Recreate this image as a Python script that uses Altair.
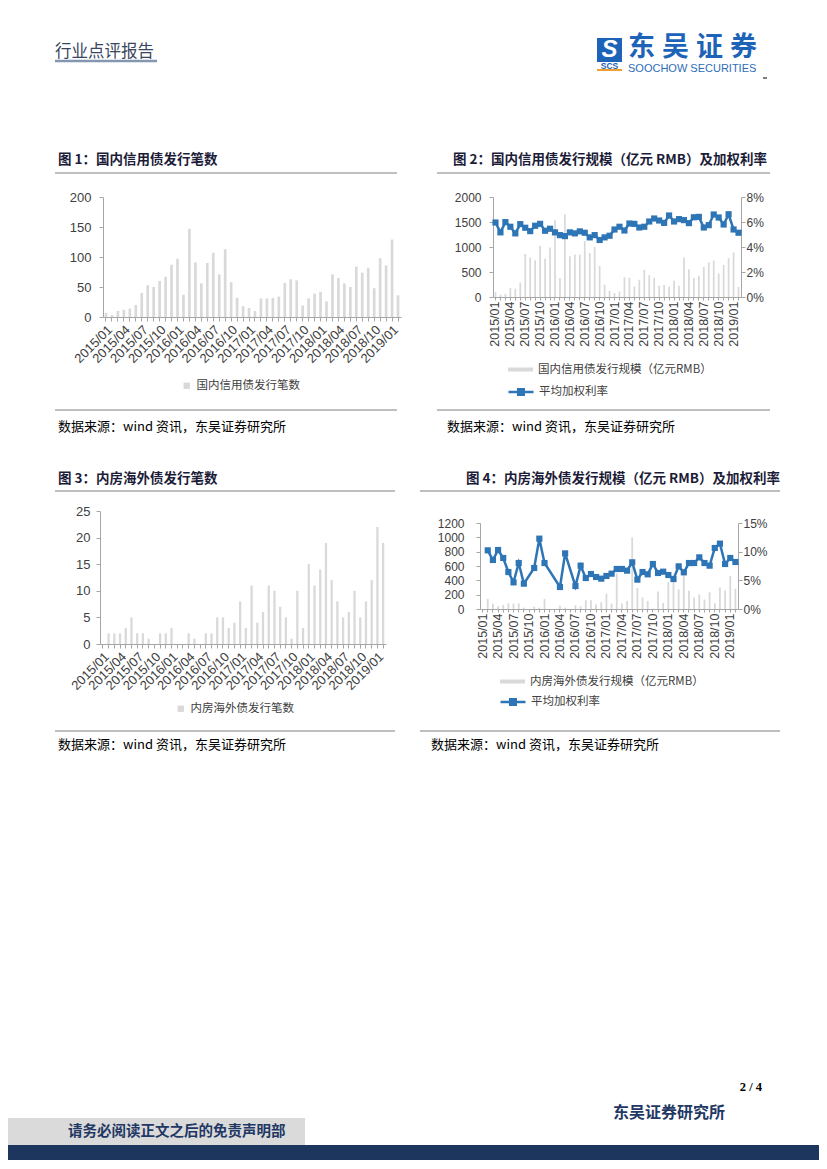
import altair as alt
import pandas as pd

# ---------------- data ----------------
months = [f"{y}/{m:02d}" for y in range(2015, 2020) for m in range(1, 13)][:50]

# 图1 国内信用债发行笔数
credit_count = [7, 3, 10, 12, 14, 20, 40, 53, 50, 60,
                67, 87, 97, 37, 147, 91, 56, 90, 107, 71,
                113, 58, 32, 18, 15, 10, 31, 31, 32, 34,
                57, 63, 61, 19, 31, 39, 42, 26, 71, 65,
                56, 50, 84, 74, 82, 48, 98, 86, 129, 36]

# 图2 国内信用债发行规模（亿元RMB）
credit_scale = [100, 45, 60, 180, 165, 290, 860, 790, 735, 1025,
                765, 990, 1535, 380, 1655, 815, 850, 850, 1120, 880,
                1005, 620, 245, 125, 80, 110, 395, 385, 210, 345,
                545, 435, 385, 225, 240, 205, 325, 225, 790, 555,
                380, 425, 600, 690, 730, 470, 640, 775, 890, 200]
# 图2 平均加权利率（%）
credit_rate = [5.96, 5.17, 5.99, 5.62, 5.09, 5.83, 5.54, 5.27, 5.70, 5.85,
               5.30, 5.46, 5.17, 4.95, 4.87, 5.17, 5.09, 5.25, 5.14, 4.77,
               4.95, 4.56, 4.77, 4.90, 5.40, 5.62, 5.32, 5.88, 5.85, 5.56,
               5.62, 6.04, 6.28, 6.12, 5.93, 6.52, 6.04, 6.23, 6.15, 5.91,
               6.38, 6.41, 5.56, 5.75, 6.60, 6.36, 5.80, 6.62, 5.40, 5.14]

# 图3 内房海外债发行笔数
overseas_count = [0, 2, 2, 2, 3, 5, 2, 2, 1, 0,
                  2, 2, 3, 0, 0, 2, 1, 0, 2, 2,
                  5, 5, 3, 4, 8, 3, 11, 4, 6, 11,
                  10, 7, 5, 1, 10, 3, 15, 11, 14, 19,
                  12, 8, 5, 6, 10, 5, 8, 12, 22, 19]

# 图4 内房海外债发行规模（亿元RMB）
overseas_scale = [0, 140, 74, 40, 56, 80, 74, 79, 19, 0,
                  33, 19, 140, 0, 0, 47, 19, 0, 51, 37,
                  121, 121, 65, 95, 215, 74, 500, 78, 113, 998,
                  292, 160, 113, 5, 245, 85, 376, 395, 273, 489,
                  254, 160, 202, 132, 235, 80, 301, 259, 461, 282]
# 图4 平均加权利率（%），无发行月份为空
overseas_rate = [None, 10.23, 8.55, 10.29, 8.9, 6.45, 4.65, 8.02, 4.42, None,
                 7.15, 12.27, 8.02, None, None, 3.84, 9.7, None, 4.0, 7.56,
                 5.4, 6.1, 5.58, 5.29, 5.76, 6.16, 6.98, 6.98, 6.69, 8.14,
                 5.12, 6.45, 6.05, 7.85, 6.28, 6.51, 5.93, 5.23, 7.44, 6.4,
                 8.02, 8.02, 9.01, 8.02, 7.56, 10.64, 11.4, 7.85, 8.9, 8.2]

src_text = "数据来源：wind 资讯，东吴证券研究所"
logo_chars = ["东", "吴", "证", "券"]

# ---------------- styles ----------------
GRAY = "#d9d9d9"
BLUE = "#2e75b6"
AXC = "#a6a6a6"
LAB = "#404040"
NUM = "Liberation Sans"
CJK = "Noto Sans CJK SC"
NAVY = "#1f3864"
TITLE = "#1c1c38"
LOGO = "#1d63b8"

LBL = "indexof(['01','04','07','10'], slice(datum.value, 5)) >= 0 ? datum.value : ''"

BAR_SYM = "M-1,-0.16L1,-0.16L1,0.16L-1,0.16Z"
LINE_SYM = "M-1,0L1,0M-0.22,-0.22L0.22,-0.22L0.22,0.22L-0.22,0.22Z"

dummy = pd.DataFrame({"d": [0]})


def xscale(pi):
    return alt.Scale(domain=months, paddingInner=pi, paddingOuter=pi / 2)


def spacer(w, h=1):
    return alt.Chart(dummy).mark_text(text="").encode(
        x=alt.value(0), y=alt.value(0)).properties(width=w, height=h)


def txt(x, y, s, size=13, weight="normal", color="#000000", align="left", font=CJK, **kw):
    return alt.Chart(dummy).mark_text(
        text=s, fontSize=size, fontWeight=weight, color=color, align=align,
        baseline="middle", font=font, **kw).encode(x=alt.value(x), y=alt.value(y))


def hline(x1, x2, y, color="#7f7f7f", w=1):
    return alt.Chart(dummy).mark_rule(color=color, strokeWidth=w).encode(
        x=alt.value(x1), x2=alt.value(x2), y=alt.value(y))


def box(x1, x2, y1, y2, color):
    return alt.Chart(dummy).mark_rect(color=color).encode(
        x=alt.value(x1), x2=alt.value(x2), y=alt.value(y1), y2=alt.value(y2))


def xaxis_vert():
    return alt.Axis(title=None, labelAngle=-90, labelExpr=LBL, labelOverlap=False,
                    labelFontSize=12.5, tickSize=3, labelPadding=1)


# ---------------- chart 1 ----------------
df1 = pd.DataFrame({"month": months, "count": credit_count, "series1": "国内信用债发行笔数"})
c1 = alt.Chart(df1).mark_bar().encode(
    x=alt.X("month:N", scale=xscale(0.55),
            axis=alt.Axis(title=None, labelAngle=-45, labelExpr=LBL, labelOverlap=False,
                          labelFontSize=13, tickSize=4, labelPadding=2)),
    y=alt.Y("count:Q", scale=alt.Scale(domain=[0, 200], nice=False),
            axis=alt.Axis(title=None, values=[0, 50, 100, 150, 200], format="d",
                          labelFontSize=13, tickSize=4, labelPadding=8)),
    color=alt.Color("series1:N", scale=alt.Scale(range=[GRAY]),
                    legend=alt.Legend(title=None, orient="none", legendX=78, legendY=183,
                                      symbolType="square", symbolSize=40, labelFontSize=11.5)),
).properties(width=298, height=120)

# ---------------- chart 2 ----------------
df2 = pd.DataFrame({"month": months, "scale": credit_scale, "rate": credit_rate,
                    "s21": "国内信用债发行规模（亿元RMB）", "s22": "平均加权利率"})
base2 = alt.Chart(df2).encode(x=alt.X("month:N", scale=xscale(0.65), axis=xaxis_vert()))
bar2 = base2.mark_bar().encode(
    y=alt.Y("scale:Q", scale=alt.Scale(domain=[0, 2000], nice=False),
            axis=alt.Axis(title=None, orient="left", values=[0, 500, 1000, 1500, 2000],
                          format="d", labelFontSize=12, tickSize=4, labelPadding=8)),
    color=alt.Color("s21:N", scale=alt.Scale(range=[GRAY]),
                    legend=alt.Legend(title=None, orient="none", legendX=14, legendY=159,
                                      symbolType=BAR_SYM, symbolSize=625, labelFontSize=11.5)),
)
line2 = base2.mark_line(strokeWidth=2.5, point=alt.OverlayMarkDef(shape="square", size=38, filled=True, color=BLUE)).encode(
    y=alt.Y("rate:Q", scale=alt.Scale(domain=[0, 8], nice=False),
            axis=alt.Axis(title=None, orient="right", values=[0, 2, 4, 6, 8],
                          labelExpr="datum.value + '%'", labelFontSize=12, tickSize=4,
                          labelPadding=1)),
    color=alt.Color("s22:N", scale=alt.Scale(range=[BLUE]),
                    legend=alt.Legend(title=None, orient="none", legendX=14, legendY=181,
                                      symbolType=LINE_SYM, symbolSize=625, symbolStrokeWidth=2.5,
                                      symbolStrokeColor=BLUE, symbolFillColor=BLUE,
                                      labelFontSize=11.5)),
)
c2 = alt.layer(bar2, line2).resolve_scale(y="independent", color="independent").properties(
    width=248, height=100)

# ---------------- chart 3 ----------------
df3 = pd.DataFrame({"month": months, "count": overseas_count, "series3": "内房海外债发行笔数"})
c3 = alt.Chart(df3).mark_bar().encode(
    x=alt.X("month:N", scale=xscale(0.6),
            axis=alt.Axis(title=None, labelAngle=-45, labelExpr=LBL, labelOverlap=False,
                          labelFontSize=13, tickSize=4, labelPadding=2)),
    y=alt.Y("count:Q", scale=alt.Scale(domain=[0, 25], nice=False),
            axis=alt.Axis(title=None, values=[0, 5, 10, 15, 20, 25], format="d",
                          labelFontSize=13, tickSize=4, labelPadding=6)),
    color=alt.Color("series3:N", scale=alt.Scale(range=[GRAY]),
                    legend=alt.Legend(title=None, orient="none", legendX=75, legendY=192,
                                      symbolType="square", symbolSize=40, labelFontSize=11.5)),
).properties(width=286, height=133)

# ---------------- chart 4 ----------------
df4 = pd.DataFrame({"month": months, "scale": overseas_scale, "rate": overseas_rate,
                    "s41": "内房海外债发行规模（亿元RMB）", "s42": "平均加权利率"})
base4 = alt.Chart(df4).encode(x=alt.X("month:N", scale=xscale(0.65), axis=xaxis_vert()))
bar4 = base4.mark_bar().encode(
    y=alt.Y("scale:Q", scale=alt.Scale(domain=[0, 1200], nice=False),
            axis=alt.Axis(title=None, orient="left", values=[0, 200, 400, 600, 800, 1000, 1200],
                          format="d", labelFontSize=12, tickSize=4, labelPadding=12)),
    color=alt.Color("s41:N", scale=alt.Scale(range=[GRAY]),
                    legend=alt.Legend(title=None, orient="none", legendX=19, legendY=145,
                                      symbolType=BAR_SYM, symbolSize=625, labelFontSize=11.5)),
)
line4 = base4.transform_filter("isValid(datum.rate)").mark_line(
    strokeWidth=2.5, point=alt.OverlayMarkDef(shape="square", size=38, filled=True, color=BLUE)).encode(
    y=alt.Y("rate:Q", scale=alt.Scale(domain=[0, 15], nice=False),
            axis=alt.Axis(title=None, orient="right", values=[0, 5, 10, 15],
                          labelExpr="datum.value + '%'", labelFontSize=12, tickSize=4,
                          labelPadding=1)),
    color=alt.Color("s42:N", scale=alt.Scale(range=[BLUE]),
                    legend=alt.Legend(title=None, orient="none", legendX=19, legendY=165,
                                      symbolType=LINE_SYM, symbolSize=625, symbolStrokeWidth=2.5,
                                      symbolStrokeColor=BLUE, symbolFillColor=BLUE,
                                      labelFontSize=11.5)),
)
c4 = alt.layer(bar4, line4).resolve_scale(y="independent", color="independent").properties(
    width=258, height=86)

# ---------------- page strips ----------------
logo_text = [txt(620 + 34 * i, 40, ch, 27, "bold", LOGO) for i, ch in enumerate(logo_chars)]

R0 = alt.layer(
    txt(47, 44, "行业点评报告", 16.5, color="#3a4660"),
    hline(47, 149, 53, "#8497b0", 2.5),
    box(589, 614, 30, 54, LOGO),
    txt(601.5, 42, "S", 24, "bold", "#ffffff", "center", NUM, fontStyle="italic"),
    txt(601.5, 58, "SCS", 8.5, "bold", LOGO, "center", NUM),
    hline(589, 614, 62, "#f0a030", 2),
    *logo_text,
    txt(620, 61, "SOOCHOW SECURITIES", 11, "normal", "#2d6db7", font=NUM),
    hline(755, 759, 70, "#000000", 1),
    txt(50, 152, "图 1：国内信用债发行笔数", 13.5, "bold", TITLE),
    txt(759, 152, "图 2：国内信用债发行规模（亿元 RMB）及加权利率", 13.5, "bold", TITLE, "right"),
    hline(47, 389, 165),
    hline(429, 762, 165),
).properties(width=811, height=189)

# nested concat rows take no height in a flush layout; a spacer row gives them room
R1 = alt.hconcat(spacer(95), c1, spacer(92), c2, spacing=0, bounds="flush").resolve_scale(color="independent")
R1_room = spacer(811, 120)

R2 = alt.layer(
    hline(47, 389, 93),
    hline(429, 762, 93),
    txt(50, 110, src_text, 13),
    txt(439, 110, src_text, 13),
    txt(50, 162, "图 3：内房海外债发行笔数", 13.5, "bold", TITLE),
    txt(772, 162, "图 4：内房海外债发行规模（亿元 RMB）及加权利率", 13.5, "bold", TITLE, "right"),
    hline(47, 387, 174),
    hline(412, 772, 174),
).properties(width=811, height=194)

R3 = alt.hconcat(
    spacer(92), c3, spacer(94),
    alt.vconcat(spacer(258, 12), c4, spacing=0, bounds="flush"),
    spacing=0, bounds="flush").resolve_scale(color="independent")
R3_room = spacer(811, 133)

R4 = alt.layer(
    hline(47, 387, 87),
    hline(412, 772, 87),
    txt(50, 101, src_text, 13),
    txt(423, 101, src_text, 13),
    txt(754, 443, "2 / 4", 12.5, "bold", "#000000", "right", "Liberation Serif"),
    txt(717, 469, "东吴证券研究所", 16, "bold", NAVY, "right"),
    box(0, 297, 474, 501, "#dadada"),
    txt(60, 488, "请务必阅读正文之后的免责声明部", 14.5, "bold", NAVY),
    box(0, 811, 501, 516, "#1c365d"),
).properties(width=811, height=516)

chart = alt.vconcat(R0, R1, R1_room, R2, R3, R3_room, R4, spacing=0, bounds="flush").resolve_scale(
    color="independent"
).properties(
    padding=0, background="white"
).configure_view(stroke=None).configure_axis(
    labelFont=NUM, labelColor=LAB, domainColor=AXC, tickColor=AXC, grid=False
).configure_legend(labelFont=CJK, labelColor=LAB, labelLimit=400, padding=0)

chart.save("out.html", embed_options={"renderer": "svg", "actions": False})
